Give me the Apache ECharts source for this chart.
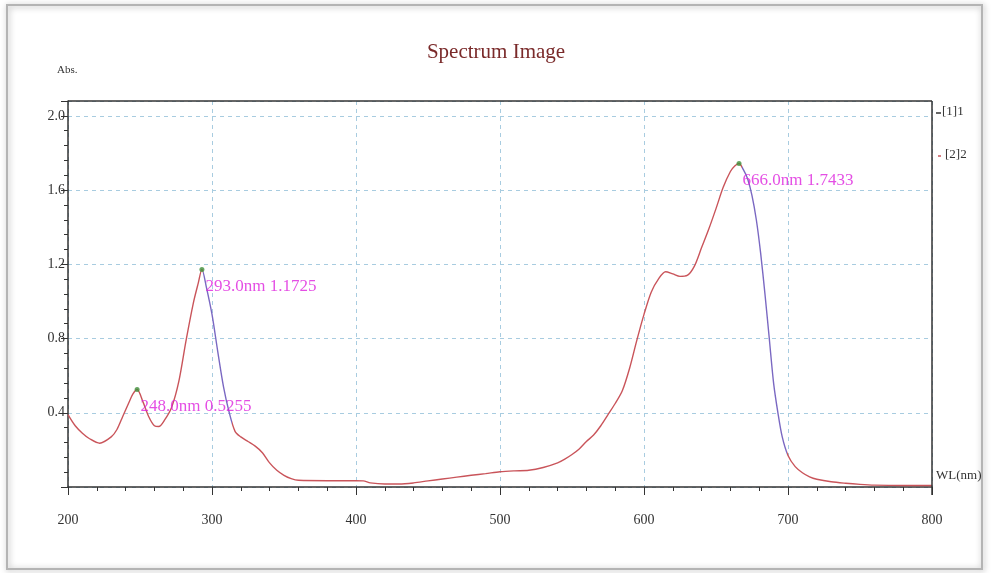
<!DOCTYPE html>
<html>
<head>
<meta charset="utf-8">
<script src="https://cdn.jsdelivr.net/npm/echarts@6/dist/echarts.min.js"></script>
<style>html,body{margin:0;padding:0;background:#fff}#c{width:992px;height:573px}</style>
</head>
<body>
<div id="c"></div>
<script>
// Wavelength (nm) and absorbance
const wavelengths = [200,205,210,215,222,230,234,238,242,245,248,252,256,260,263,267,272,277,282,287,290.5,293,296,300,304,308,312,316,320,325,330,335,340,345,350,355,360,380,400,405,410,420,430,440,450,460,470,480,490,500,510,520,530,540,545,550,555,560,565,570,575,580,585,590,595,600,605,610,615,620,625,630,635,640,645,650,655,660,663,666,669,672,675,678,681,684,687,690,693,696,700,705,710,715,720,730,740,750,760,780,800];
const absorbance = [0.39,0.33,0.29,0.26,0.236,0.27,0.31,0.38,0.45,0.50,0.5255,0.46,0.38,0.33,0.326,0.36,0.43,0.57,0.79,0.99,1.10,1.1725,1.08,0.93,0.73,0.54,0.40,0.30,0.27,0.245,0.22,0.185,0.13,0.09,0.063,0.045,0.036,0.034,0.034,0.033,0.022,0.016,0.016,0.022,0.033,0.043,0.053,0.063,0.072,0.082,0.087,0.09,0.105,0.13,0.15,0.175,0.205,0.245,0.28,0.33,0.39,0.45,0.52,0.64,0.79,0.93,1.05,1.12,1.16,1.148,1.135,1.14,1.19,1.29,1.39,1.50,1.615,1.70,1.73,1.7433,1.71,1.66,1.57,1.44,1.26,1.04,0.80,0.56,0.40,0.27,0.17,0.11,0.077,0.055,0.042,0.028,0.02,0.014,0.01,0.008,0.008];
const peakWl = [248.0, 293.0, 666.0];
const peakAbs = [0.5255, 1.1725, 1.7433];
const yTickLabels = ['0.4','0.8','1.2','1.6','2.0'];
const xTickLabels = ['200','300','400','500','600','700','800'];
const titleText = 'Spectrum Image';
const legendItems = ['[1]1', '[2]2'];

const serif = '"Liberation Serif", "Times New Roman", serif';
const lineData = wavelengths.map((w, i) => [w, absorbance[i]]);
const peakData = peakWl.map((w, i) => [w, peakAbs[i]]);

const G = {left: 68, right: 60, top: 101, bottom: 86};
const W = 992, H = 573;

const chart = echarts.init(document.getElementById('c'), null, {renderer: 'canvas'});
chart.setOption({
  animation: false,
  backgroundColor: '#fff',
  title: {
    text: titleText, left: 'center', top: 37,
    textStyle: {fontFamily: serif, fontSize: 21, fontWeight: 'normal', color: '#7a2a2a'}
  },
  grid: {left: G.left, right: G.right, top: G.top, bottom: G.bottom, show: false},
  xAxis: {
    type: 'value', min: 200, max: 800, interval: 100,
    axisLine: {show: true, onZero: false, lineStyle: {color: '#333', width: 1.5}},
    axisTick: {show: true, length: 8, lineStyle: {color: '#333'}},
    minorTick: {show: true, splitNumber: 5, length: 4, lineStyle: {color: '#333'}},
    axisLabel: {margin: 26, fontFamily: serif, fontSize: 14, color: '#333',
      formatter: v => xTickLabels.includes(String(v)) ? String(v) : ''},
    splitLine: {show: true, lineStyle: {color: '#a8cce0', type: [4, 4], width: 1}}
  },
  yAxis: {
    type: 'value', min: 0, max: 2.08, interval: 0.4,
    axisLine: {show: true, lineStyle: {color: '#333', width: 1.5}},
    axisTick: {show: true, length: 7, lineStyle: {color: '#333'}},
    minorTick: {show: true, splitNumber: 5, length: 4, lineStyle: {color: '#333'}},
    axisLabel: {margin: 3, fontFamily: serif, fontSize: 14, color: '#333',
      formatter: v => { const s = v.toFixed(1); return (yTickLabels.includes(s) && Math.abs(v - parseFloat(s)) < 1e-6) ? s : ''; }},
    splitLine: {show: true, lineStyle: {color: '#a8cce0', type: [4, 4], width: 1}}
  },
  visualMap: {
    show: false, type: 'piecewise', seriesIndex: 0, dimension: 0,
    pieces: [
      {lt: 294, color: '#c9545a'},
      {gte: 294, lt: 314, color: '#7a68c2'},
      {gte: 314, lt: 668, color: '#c9545a'},
      {gte: 668, lt: 699, color: '#7a68c2'},
      {gte: 699, color: '#c9545a'}
    ]
  },
  series: [
    {
      type: 'line', data: lineData, smooth: 0.3, symbol: 'none',
      lineStyle: {width: 1.4}, z: 3
    },
    {
      type: 'scatter', data: peakData, symbol: 'circle', symbolSize: 5,
      itemStyle: {color: '#3f8f3a'}, z: 5,
      label: {
        show: true, position: [6, 11], align: 'left', verticalAlign: 'top',
        fontFamily: serif, fontSize: 17, color: '#dd22dd',
        formatter: p => p.value[0].toFixed(1) + 'nm ' + p.value[1].toFixed(4)
      }
    }
  ],
  graphic: [
    {type: 'rect', shape: {x: 7, y: 5, width: 975, height: 564}, style: {fill: 'none', stroke: '#b4b4b4', lineWidth: 2, shadowBlur: 6, shadowColor: 'rgba(0,0,0,0.35)', shadowOffsetX: 1, shadowOffsetY: 1}, z: -1, silent: true},
    {type: 'line', shape: {x1: G.left, y1: G.top, x2: W - G.right, y2: G.top}, style: {stroke: '#333', lineWidth: 1.5}, z: 10, silent: true},
    {type: 'line', shape: {x1: W - G.right, y1: G.top, x2: W - G.right, y2: H - G.bottom + 8}, style: {stroke: '#333', lineWidth: 1.5}, z: 10, silent: true},
    {type: 'text', left: 57, top: 65, style: {text: 'Abs.', font: '11px ' + serif, fill: '#333'}},
    {type: 'text', left: 936, top: 469, style: {text: 'WL(nm)', font: '13px ' + serif, fill: '#333'}},
    {type: 'line', shape: {x1: 936, y1: 113, x2: 941, y2: 113}, style: {stroke: '#333', lineWidth: 1.5}},
    {type: 'text', left: 942, top: 105, style: {text: legendItems[0], font: '13px ' + serif, fill: '#333'}},
    {type: 'line', shape: {x1: 938, y1: 156, x2: 941, y2: 156}, style: {stroke: '#c9545a', lineWidth: 1.5}},
    {type: 'text', left: 945, top: 148, style: {text: legendItems[1], font: '13px ' + serif, fill: '#333'}}
  ]
});
</script>
</body>
</html>
